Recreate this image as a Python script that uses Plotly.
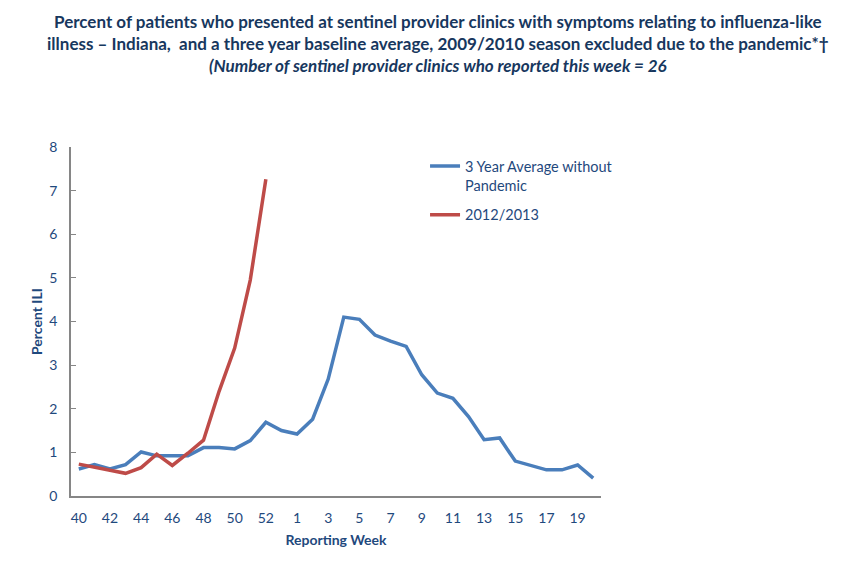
import plotly.graph_objects as go

# Reporting weeks (2012 had a week 53)
weeks = [str(w) for w in range(40, 54)] + [str(w) for w in range(1, 21)]
tick_labels = ['40', '42', '44', '46', '48', '50', '52', '1', '3', '5', '7', '9', '11', '13', '15', '17', '19']

avg_no_pandemic = [0.62, 0.72, 0.62, 0.72, 1.01, 0.92, 0.92, 0.92, 1.11, 1.11, 1.08, 1.27, 1.69, 1.50,
                   1.42, 1.76, 2.68, 4.10, 4.05, 3.69, 3.55, 3.43, 2.78, 2.36, 2.24, 1.82, 1.29, 1.33,
                   0.80, 0.69, 0.60, 0.60, 0.71, 0.41]
season_2012_13 = [0.73, 0.67, 0.59, 0.52, 0.65, 0.96, 0.70, 0.98, 1.28, 2.40, 3.39, 4.95, 7.26]

navy = '#1F497D'
font_name = 'Lato'

fig = go.Figure()

fig.add_trace(go.Scatter(x=weeks, y=avg_no_pandemic, mode='lines',
                         line=dict(color='#4A7EBB', width=3.5),
                         name='3 Year Average without<br>Pandemic', legendgroup='avg'))
fig.add_trace(go.Scatter(x=weeks[:len(season_2012_13)], y=season_2012_13, mode='lines',
                         line=dict(color='#BE4B48', width=3.5),
                         name='2012/2013', legendgroup='cur'))

title_text = ('<b>Percent of patients who presented at sentinel provider clinics with symptoms relating to influenza-like</b><br>'
              '<b>illness \u2013 Indiana,  and a three year baseline average, 2009/2010 season excluded due to the pandemic*\u2020</b><br>'
              '<b><i>(Number of sentinel provider clinics who reported this week = 26</i></b>')

# page body adds an 8px margin, so the figure is laid out 8px up/left of the picture
fig.update_layout(
    width=833,
    height=552,
    margin=dict(l=63, r=240, t=139, b=64),
    title=dict(text=title_text, x=0.516, xanchor='center', yref='container', y=0.964, yanchor='top',
               font=dict(family=font_name, size=17, color='#17375E')),
    font=dict(family=font_name, size=14, color=navy),
    plot_bgcolor='white',
    paper_bgcolor='white',
    legend=dict(x=0.668, y=0.991, xanchor='left', yanchor='top', valign='top',
                font=dict(size=14.5, color=navy), tracegroupgap=8,
                bgcolor='rgba(0,0,0,0)'),
    xaxis=dict(type='category', categoryorder='array', categoryarray=weeks,
               tickmode='array', tickvals=tick_labels, ticktext=tick_labels,
               range=[-0.5, len(weeks) - 0.5],
               showline=True, linecolor='#868686', linewidth=1.5,
               showgrid=False, ticks='', ticklabelstandoff=8,
               title=dict(text='<b>Reporting Week</b>', standoff=11,
                          font=dict(size=14, color=navy))),
    yaxis=dict(range=[0, 8], dtick=1, showline=True, linecolor='#868686', linewidth=1.5,
               showgrid=False, zeroline=False, ticks='inside', ticklen=5, tickcolor='#868686',
               ticklabelstandoff=9,
               title=dict(text='<b>Percent ILI</b>', standoff=3,
                          font=dict(size=14, color=navy))),
)

fig.write_html("out.html")
